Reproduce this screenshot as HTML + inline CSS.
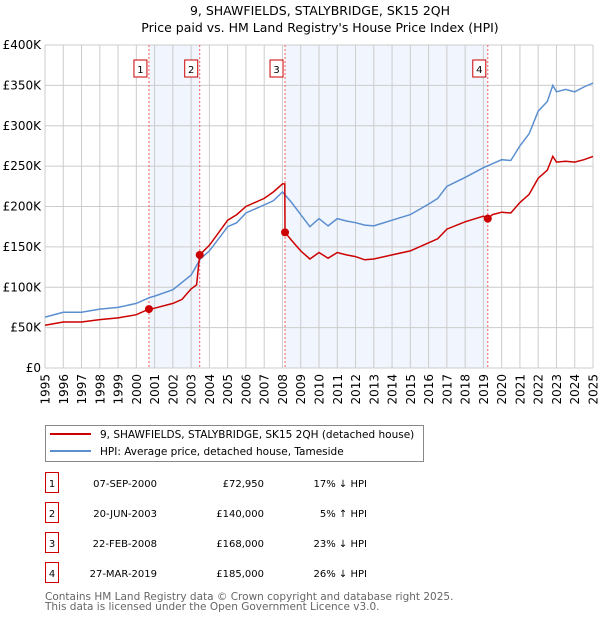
<!DOCTYPE html>
<html><head><meta charset="utf-8"><style>
body{margin:0;background:#fff;}
svg text{font-family:"DejaVu Sans","Liberation Sans",sans-serif;}
</style></head><body>
<svg id="c" width="600" height="620" xmlns="http://www.w3.org/2000/svg">
<text x="320" y="15" font-size="12.5" text-anchor="middle">9, SHAWFIELDS, STALYBRIDGE, SK15 2QH</text>
<text x="320" y="32" font-size="12.5" text-anchor="middle">Price paid vs. HM Land Registry's House Price Index (HPI)</text>
<g id="plot"></g>
<g>
<rect x="45.5" y="425.5" width="378" height="36" fill="#fff" stroke="#888"/>
<line x1="50" y1="434" x2="91" y2="434" stroke="#cc0000" stroke-width="2"/>
<text x="100" y="438" font-size="10.5">9, SHAWFIELDS, STALYBRIDGE, SK15 2QH (detached house)</text>
<line x1="50" y1="451" x2="91" y2="451" stroke="#5b8fd0" stroke-width="2"/>
<text x="100" y="455" font-size="10.5">HPI: Average price, detached house, Tameside</text>
</g>
<g id="tbl" font-size="10"></g>
<text x="45" y="600" font-size="10.5" fill="#666">Contains HM Land Registry data © Crown copyright and database right 2025.</text>
<text x="45" y="610" font-size="10.5" fill="#666">This data is licensed under the Open Government Licence v3.0.</text>
</svg>
<script>
const hpiYears=[1995,1996,1997,1998,1999,2000,2000.7,2001,2002,2003,2003.5,2004,2005,2005.5,2006,2007,2007.5,2008,2008.5,2009,2009.5,2010,2010.5,2011,2011.5,2012,2012.5,2013,2014,2015,2016,2016.5,2017,2018,2019,2019.5,2020,2020.5,2021,2021.5,2022,2022.5,2022.8,2023,2023.5,2024,2024.5,2025];
const hpiValues=[63,69,69,73,75,80,87,89,97,115,135,145,175,180,192,202,207,218,205,190,175,185,176,185,182,180,177,176,183,190,203,210,225,236,248,253,258,257,275,290,318,330,350,342,345,342,348,353];
const propYears=[1995,1996,1997,1998,1999,2000,2000.69,2001,2002,2002.5,2003,2003.3,2003.47,2004,2005,2005.5,2006,2007,2007.5,2008,2008.13,2008.14,2008.5,2009,2009.5,2010,2010.5,2011,2011.5,2012,2012.5,2013,2014,2015,2016,2016.5,2017,2018,2019,2019.24,2019.5,2020,2020.5,2021,2021.5,2022,2022.5,2022.8,2023,2023.5,2024,2024.5,2025];
const propValues=[53,57,57,60,62,66,72.95,74,80,85,98,103,140,152,183,190,200,210,218,228,228,168,158,145,135,143,136,143,140,138,134,135,140,145,155,160,172,181,188,185,190,193,192,205,215,235,245,262,255,256,255,258,262];
const saleLabels=["1","2","3","4"];
const saleYears=[2000.69,2003.47,2008.14,2019.24];
const saleValues=[72.95,140,168,185];
const saleDates=["07-SEP-2000","20-JUN-2003","22-FEB-2008","27-MAR-2019"];
const salePrices=["£72,950","£140,000","£168,000","£185,000"];
const saleDiffs=["17% ↓ HPI","5% ↑ HPI","23% ↓ HPI","26% ↓ HPI"];
const yTicks=[0,50,100,150,200,250,300,350,400];
const yTickLabels=["£0","£50K","£100K","£150K","£200K","£250K","£300K","£350K","£400K"];
const X0=45,X1=593,Y0=368,Y1=45;
const sx=y=>X0+(y-1995)/(2025-1995)*(X1-X0);
const sy=v=>Y0-v/400*(Y0-Y1);
const NS="http://www.w3.org/2000/svg";
const g=document.getElementById('plot');
function mk(t,a,p){const e=document.createElementNS(NS,t);for(const k in a)e.setAttribute(k,a[k]);(p||g).appendChild(e);return e;}
for(let i=0;i<4;i+=2){const r=mk('rect',{x:sx(saleYears[i]),y:Y1,width:sx(saleYears[i+1])-sx(saleYears[i]),height:Y0-Y1,fill:'#eef3fc',opacity:0.8});

}
for(let y=1995;y<=2025;y++){const l=mk('line',{x1:sx(y),x2:sx(y),y1:Y1,y2:Y0,stroke:'#ccc'});


const t=mk('text',{x:0,y:0,'font-size':12,'text-anchor':'end',transform:`translate(${sx(y)+4.5},${Y0+6}) rotate(-90)`});t.textContent=y;

}
yTicks.forEach((v,i)=>{const l=mk('line',{x1:X0,x2:X1,y1:sy(v),y2:sy(v),stroke:'#ccc'});


const t=mk('text',{x:X0-4,y:sy(v)+4,'font-size':12,'text-anchor':'end'});t.textContent=yTickLabels[i];

});
saleYears.forEach((y,i)=>{const l=mk('line',{x1:sx(y),x2:sx(y),y1:Y1,y2:Y0,stroke:'#f06060','stroke-dasharray':'2,2'});


const b=mk('rect',{x:sx(y)-15,y:60,width:13,height:17,fill:'#fff',stroke:'#cc0000'});


const t=mk('text',{x:sx(y)-8.5,y:73,'font-size':10,'text-anchor':'middle'});t.textContent=saleLabels[i];

});
const hp=mk('path',{d:hpiYears.map((y,i)=>(i?'L':'M')+sx(y).toFixed(1)+','+sy(hpiValues[i]).toFixed(1)).join(''),fill:'none',stroke:'#5b8fd0','stroke-width':1.5});


const pp=mk('path',{d:propYears.map((y,i)=>(i?'L':'M')+sx(y).toFixed(1)+','+sy(propValues[i]).toFixed(1)).join(''),fill:'none',stroke:'#cc0000','stroke-width':1.5});


saleYears.forEach((y,i)=>{const c=mk('circle',{cx:sx(y),cy:sy(saleValues[i]),r:4,fill:'#cc0000'});

});
const tb=document.getElementById('tbl');
const rowY=[483,513,543,573];
saleLabels.forEach((s,i)=>{const y=rowY[i];
const b=mk('rect',{x:45.5,y:y-10.5,width:13,height:20,fill:'#fff',stroke:'#cc0000'},tb);


const cols=[[52,s,'middle'],[157,saleDates[i],'end'],[264,salePrices[i],'end'],[367,saleDiffs[i],'end']];
cols.forEach(c=>{const t=mk('text',{x:c[0],y:y+4,'text-anchor':c[2]},tb);t.textContent=c[1];

});});
</script>
</body></html>
